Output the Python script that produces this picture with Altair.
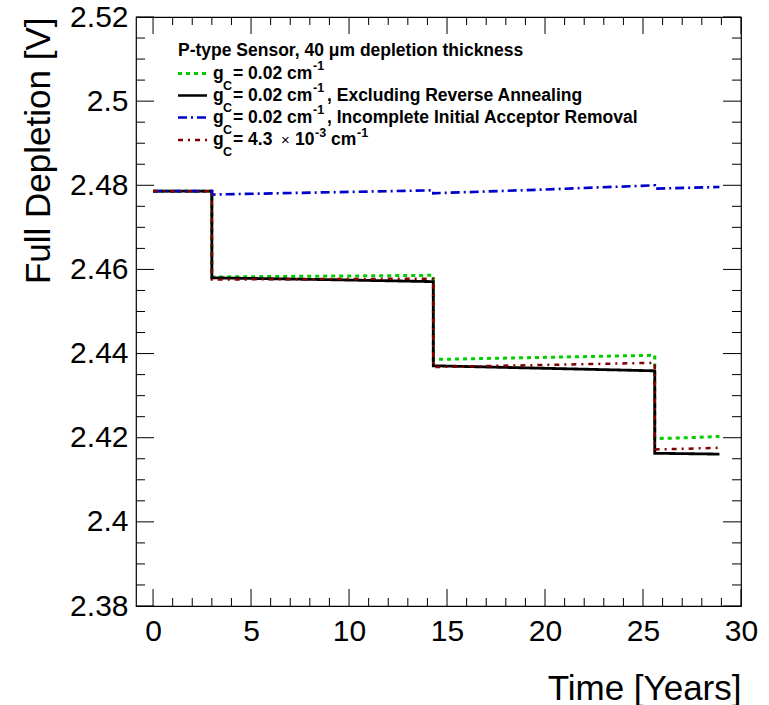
import altair as alt
import pandas as pd

# Time axis shared by every curve (years); repeated times are the annealing steps
years = [0.0, 3.0, 3.0, 8.6, 14.3, 14.3, 20.0, 25.6, 25.6, 27.3, 28.9]

# Full depletion voltage [V] for each model
vfd_gc_002 = [2.4786, 2.4786, 2.4582, 2.4584, 2.4586, 2.4386, 2.4391, 2.4396, 2.4198, 2.4200, 2.4203]
vfd_gc_002_no_ra = [2.4786, 2.4786, 2.4580, 2.4576, 2.4571, 2.4371, 2.4365, 2.4359, 2.4163, 2.4162, 2.4161]
vfd_gc_002_incomplete = [2.4786, 2.4786, 2.4778, 2.4783, 2.4788, 2.4781, 2.4790, 2.4800, 2.4792, 2.4794, 2.4796]
vfd_gc_43e3 = [2.4786, 2.4786, 2.4576, 2.4577, 2.4578, 2.4368, 2.4373, 2.4378, 2.4172, 2.4174, 2.4176]

series_names = ["gc002", "gc002_noRA", "gc002_incomplete", "gc43e3"]
series_values = [vfd_gc_002, vfd_gc_002_no_ra, vfd_gc_002_incomplete, vfd_gc_43e3]
series_colors = ["#00cc00", "#000000", "#0000cc", "#800000"]
series_dashes = [[4, 4], [1, 0], [9, 4, 2, 4], [5, 5, 2, 5]]
series_widths = [3.0, 2.5, 2.5, 2.5]

x_major = [0, 5, 10, 15, 20, 25, 30]
x_minor = [v for v in range(0, 31) if v % 5 != 0]
y_major = [2.38, 2.40, 2.42, 2.44, 2.46, 2.48, 2.50, 2.52]
y_minor = [round(2.38 + 0.005 * i, 3) for i in range(29) if i % 4 != 0]

rows = []
for name, vals in zip(series_names, series_values):
    for i, (t, v) in enumerate(zip(years, vals)):
        rows.append({"series": name, "t": t, "v": v, "idx": i})
df = pd.DataFrame(rows)

W, H = 605, 589
LEFT, TOP = 136, 17
FONT = "Liberation Sans"

x_scale = alt.Scale(domain=[-0.87, 30], nice=False, zero=False)
y_scale = alt.Scale(domain=[2.38, 2.52], nice=False, zero=False)

x_axis = alt.Axis(
    values=x_major, title="Time [Years]", grid=False, ticks=False, domain=False,
    labelFont=FONT, labelFontSize=30, labelPadding=10, labelFlush=False,
    labelOverlap=False, labelColor="black",
    titleFont=FONT, titleFontSize=35, titleFontWeight="normal", titleColor="black",
    titleX=W, titleY=82, titleAlign="right", titleBaseline="middle",
)
y_axis = alt.Axis(
    values=y_major, format="~g", title="Full Depletion [V]", grid=False, ticks=False,
    domain=False, labelFont=FONT, labelFontSize=30, labelPadding=8, labelFlush=False,
    labelOverlap=False, labelColor="black",
    titleFont=FONT, titleFontSize=35, titleFontWeight="normal", titleColor="black",
    titleX=-98, titleY=0, titleAngle=-90, titleAlign="right", titleBaseline="middle",
)

lines = alt.Chart(df).mark_line(strokeCap="butt", strokeJoin="miter").encode(
    x=alt.X("t:Q", scale=x_scale, axis=x_axis),
    y=alt.Y("v:Q", scale=y_scale, axis=y_axis),
    color=alt.Color("series:N", scale=alt.Scale(domain=series_names, range=series_colors), legend=None),
    strokeDash=alt.StrokeDash("series:N", scale=alt.Scale(domain=series_names, range=series_dashes), legend=None),
    strokeWidth=alt.StrokeWidth("series:N", scale=alt.Scale(domain=series_names, range=series_widths), legend=None),
    order=alt.Order("idx:Q"),
)

# Inward ticks on all four sides of the frame
def x_ticks(vals, length):
    d = pd.DataFrame({"t": vals})
    bottom = alt.Chart(d).mark_rule(color="black", strokeWidth=1).encode(
        x=alt.X("t:Q", scale=x_scale, axis=x_axis), y=alt.value(H), y2=alt.value(H - length))
    top = alt.Chart(d).mark_rule(color="black", strokeWidth=1).encode(
        x=alt.X("t:Q", scale=x_scale, axis=x_axis), y=alt.value(0), y2=alt.value(length))
    return [bottom, top]

def y_ticks(vals, length):
    d = pd.DataFrame({"v": vals})
    left = alt.Chart(d).mark_rule(color="black", strokeWidth=1).encode(
        y=alt.Y("v:Q", scale=y_scale, axis=y_axis), x=alt.value(0), x2=alt.value(length))
    right = alt.Chart(d).mark_rule(color="black", strokeWidth=1).encode(
        y=alt.Y("v:Q", scale=y_scale, axis=y_axis), x=alt.value(W), x2=alt.value(W - length))
    return [left, right]

tick_layers = x_ticks(x_major, 17) + x_ticks(x_minor, 8) + y_ticks(y_major, 18) + y_ticks(y_minor, 9)

# Legend block drawn as text and sample strokes
one = alt.Data(values=[{}])
LEG = 17.5

def txt(s, x, y, size=LEG, weight="bold"):
    return alt.Chart(one).mark_text(
        text=s, align="left", baseline="middle", font=FONT, fontSize=size,
        fontWeight=weight, color="black",
    ).encode(x=alt.value(x - LEFT), y=alt.value(y - TOP))

def swatch(y, color, dash, width):
    return alt.Chart(one).mark_rule(color=color, strokeDash=dash, strokeWidth=width, strokeCap="butt").encode(
        x=alt.value(178 - LEFT), x2=alt.value(207 - LEFT), y=alt.value(y - TOP))

row_y = [73.5, 95.5, 117.5, 140]
SUB, SUP = 12, -7.5

legend = [txt("P-type Sensor, 40 \u03bcm depletion thickness", 178, 51)]
suffixes = ["", ", Excluding Reverse Annealing", ", Incomplete Initial Acceptor Removal"]
for i in range(3):
    y = row_y[i]
    legend += [
        swatch(y, series_colors[i], series_dashes[i], series_widths[i]),
        txt("g", 213, y),
        txt("C", 223, y + SUB, size=12.5),
        txt("= 0.02 cm", 233, y),
        txt("-1", 313, y + SUP, size=12.5),
    ]
    if suffixes[i]:
        legend.append(txt(suffixes[i], 327, y))

y = row_y[3]
legend += [
    swatch(y, series_colors[3], series_dashes[3], series_widths[3]),
    txt("g", 213, y),
    txt("C", 223, y + SUB, size=12.5),
    txt("= 4.3", 233, y),
    txt("\u00d7", 281, y, size=15, weight="normal"),
    txt("10", 295, y),
    txt("-3", 315, y + SUP, size=12.5),
    txt("cm", 331, y),
    txt("-1", 357, y + SUP, size=12.5),
]

chart = alt.layer(lines, *tick_layers, *legend).properties(
    width=W, height=H,
    autosize=alt.AutoSizeParams(type="none"),
    padding={"left": LEFT, "top": TOP, "right": 769 - LEFT - W, "bottom": 705 - TOP - H},
    background="white",
).configure_view(stroke="black", strokeWidth=1.2)

chart.save("out.html", embed_options={"renderer": "svg", "actions": False})
